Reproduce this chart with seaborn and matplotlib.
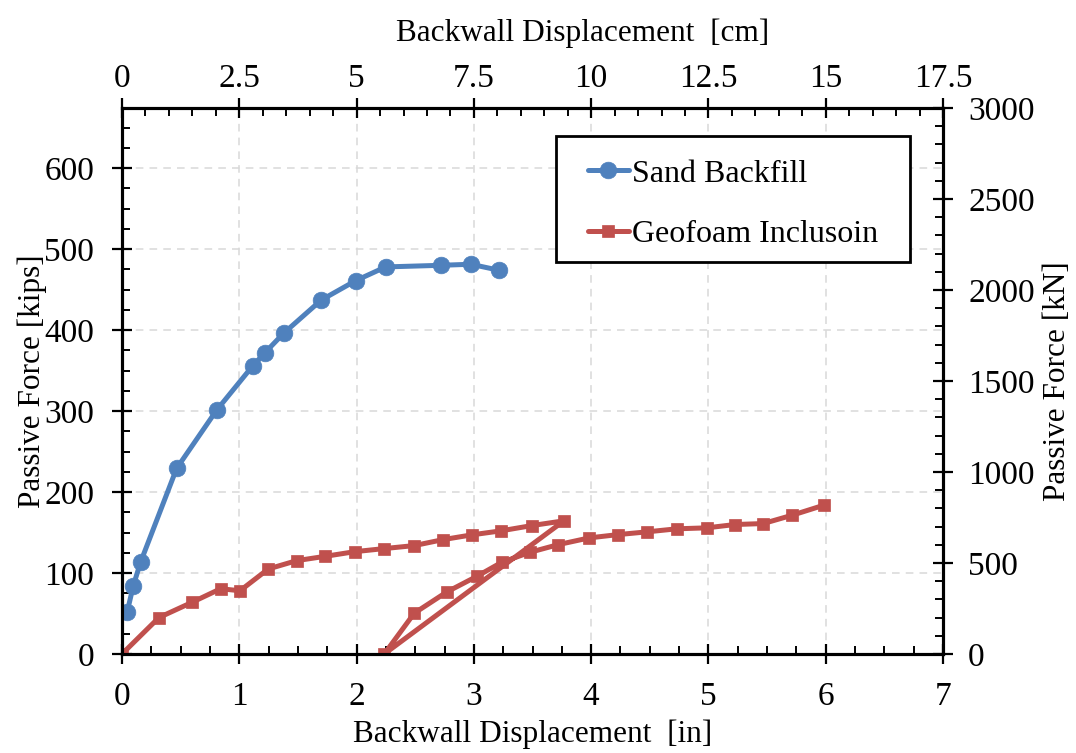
import numpy as np
import pandas as pd
import matplotlib
matplotlib.use("Agg")
import matplotlib.pyplot as plt
import seaborn as sns
from matplotlib.ticker import MultipleLocator
from matplotlib.patches import Rectangle

# ---- data ----
sand_x = [0.045, 0.096, 0.159, 0.466, 0.807, 1.114, 1.217, 1.379, 1.699, 1.992, 2.248, 2.719, 2.975, 3.217]
sand_y = [52.4, 84.3, 113.7, 229.3, 301.2, 355.8, 371.9, 396.3, 437.2, 461.1, 478.1, 480.1, 481.4, 473.9]

geo_x = [0.0, 0.315, 0.594, 0.841, 1.006, 1.247, 1.489, 1.731, 1.986, 2.236, 2.492, 2.739, 2.981, 3.231, 3.498, 3.768,
         2.236, 2.492, 2.768, 3.024, 3.237, 3.478, 3.720, 3.984, 4.231, 4.473, 4.729, 4.985, 5.226, 5.467, 5.714, 5.985]
geo_y = [0.0, 45.0, 63.6, 80.6, 78.1, 105.0, 115.3, 120.6, 126.4, 130.2, 133.9, 141.3, 147.1, 152.1, 158.7, 164.5,
         0.0, 50.4, 76.5, 95.8, 113.2, 125.6, 135.1, 143.4, 147.5, 150.8, 154.6, 155.8, 159.9, 161.1, 171.4, 183.8]

series_names = ["Sand Backfill", "Geofoam Inclusoin"]
blue = "#4F81BD"
red = "#C0504D"

sns.set_style("white")
plt.rcParams["font.family"] = ["Liberation Serif", "DejaVu Serif"]
plt.rcParams["text.color"] = "black"
plt.rcParams["axes.labelcolor"] = "black"
plt.rcParams["xtick.color"] = "black"
plt.rcParams["ytick.color"] = "black"

fig = plt.figure(figsize=(10.76, 7.53), dpi=100)
ax = fig.add_axes([0.1134, 0.1315, 0.7630, 0.7251])

sand_df = pd.DataFrame({"x": sand_x, "y": sand_y})
geo_df = pd.DataFrame({"x": geo_x, "y": geo_y})

sns.lineplot(data=sand_df, x="x", y="y", ax=ax, sort=False, estimator=None,
             color=blue, marker="o", label=series_names[0], zorder=5)
sns.lineplot(data=geo_df, x="x", y="y", ax=ax, sort=False, estimator=None,
             color=red, marker="s", label=series_names[1], zorder=4)

styles = {0: dict(color=blue, ms=12), 1: dict(color=red, ms=9)}
for i, ln in enumerate(ax.lines[:2]):
    ln.set_linewidth(3.6)
    ln.set_markersize(styles[i]["ms"])
    ln.set_markeredgecolor(styles[i]["color"])
    ln.set_markerfacecolor(styles[i]["color"])
    ln.set_markeredgewidth(0.5)

KIP_TO_KN = 4.4482216
ax.set_xlim(0, 7)
ax.set_ylim(0, 3000 / KIP_TO_KN)
ax.xaxis.set_major_locator(MultipleLocator(1))
ax.xaxis.set_minor_locator(MultipleLocator(0.25))
ax.yaxis.set_major_locator(MultipleLocator(100))
ax.yaxis.set_minor_locator(MultipleLocator(25))
ax.grid(True, which="major", color="#d9d9d9", linestyle=(0, (5, 4)), linewidth=1.1)
ax.set_axisbelow(True)

fs = 24
lfs = 22.5
ax.set_xlabel("Backwall Displacement  [in]", fontsize=lfs, labelpad=5)
ax.set_ylabel("Passive Force [kips]", fontsize=lfs, labelpad=-2)

for sp in ax.spines.values():
    sp.set_linewidth(2.2)
    sp.set_color("black")

def style_ticks(a, axis):
    a.tick_params(axis=axis, which="major", direction="inout", length=14, width=1.6,
                  labelsize=fs, colors="black")
    a.tick_params(axis=axis, which="minor", direction="in", length=6, width=1.4)

style_ticks(ax, "x")
style_ticks(ax, "y")
ax.tick_params(axis="x", which="major", pad=13)
ax.tick_params(axis="y", which="major", pad=13)

handles, labels = ax.get_legend_handles_labels()
if ax.get_legend() is not None:
    ax.get_legend().remove()

# right axis (kN)
axr = ax.twinx()
axr.set_ylim(0, 3000)
axr.yaxis.set_major_locator(MultipleLocator(500))
axr.yaxis.set_minor_locator(MultipleLocator(100))
style_ticks(axr, "y")
axr.tick_params(axis="y", which="major", pad=11)
axr.set_ylabel("Passive Force [kN]", fontsize=lfs, labelpad=6)

# top axis (cm)
axt = ax.twiny()
axt.set_xlim(0, 17.5)
axt.xaxis.set_major_locator(MultipleLocator(2.5))
axt.xaxis.set_minor_locator(MultipleLocator(0.5))
axt.xaxis.set_major_formatter(matplotlib.ticker.FuncFormatter(lambda v, p: f"{v:g}"))
style_ticks(axt, "x")
axt.tick_params(axis="x", which="major", pad=3)
axt.set_xlabel("Backwall Displacement  [cm]", fontsize=lfs, labelpad=16)
axt.xaxis.label.set_x(0.5 + 50 / 821)
for a in (axr, axt):
    for sp in a.spines.values():
        sp.set_linewidth(2.2)
        sp.set_color("black")

# legend frame drawn as a rectangle, entries placed inside
box = Rectangle((0.5286, 0.7179), 0.9598 - 0.5286, 0.9487 - 0.7179, transform=axt.transAxes,
                facecolor="white", edgecolor="black", linewidth=2.0, zorder=9)
axt.add_patch(box)
leg = axt.legend(handles, labels, loc="upper left", bbox_to_anchor=(0.5676, 0.906), fontsize=23,
                 frameon=False, borderpad=0, labelspacing=0.97, handlelength=1.28,
                 handletextpad=0.1, borderaxespad=0)
leg.set_zorder(10)

fig.savefig("out.png", dpi=100)
